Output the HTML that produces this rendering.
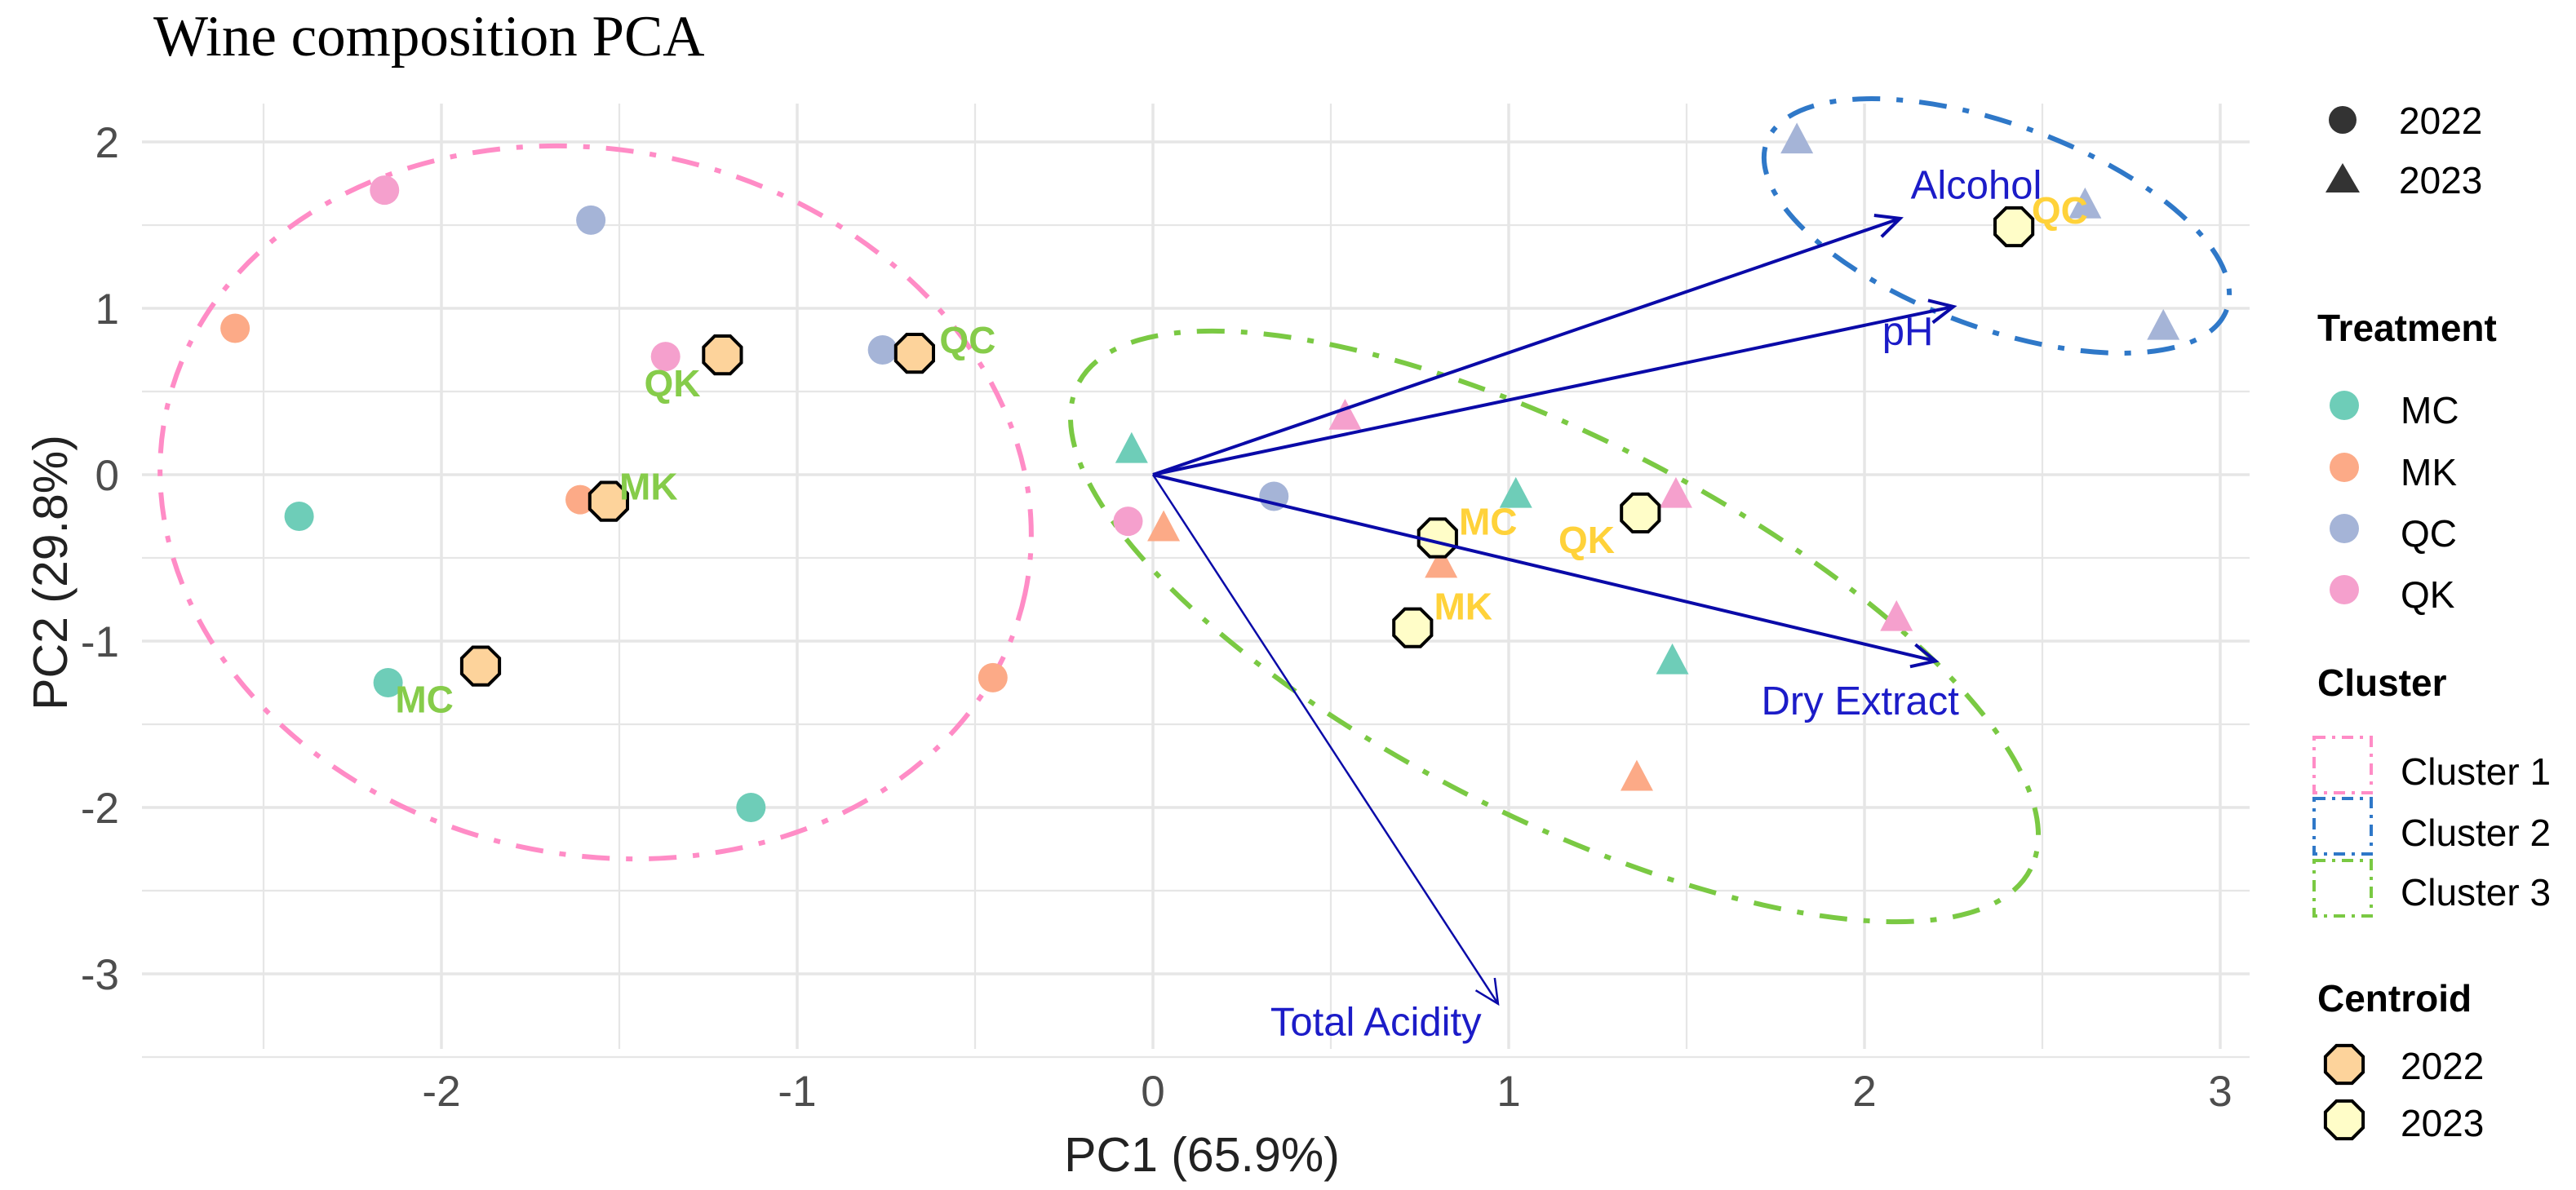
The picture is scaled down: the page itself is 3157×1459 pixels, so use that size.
<!DOCTYPE html>
<html><head><meta charset="utf-8"><style>
html,body{margin:0;padding:0;background:#fff;}
svg{display:block;}
</style></head><body>
<svg id="chart" xmlns="http://www.w3.org/2000/svg" width="3157" height="1459" viewBox="0 0 3157 1459">
<rect width="3157" height="1459" fill="#fff"/>
<text x="188" y="68" font-family="Liberation Serif, serif" font-size="71" fill="#000">Wine composition PCA</text>
<g id="grid"></g>
<g id="xticks"></g>
<g id="yticks"></g>
<text x="1473" y="1436" text-anchor="middle" font-family="Liberation Sans, sans-serif" font-size="59" fill="#222">PC1 (65.9%)</text>
<text transform="translate(82,702) rotate(-90)" text-anchor="middle" font-family="Liberation Sans, sans-serif" font-size="59" fill="#222">PC2 (29.8%)</text>
<g id="ellipses">
<ellipse cx="730" cy="616" rx="538" ry="432" transform="rotate(12 730 616)" fill="none" stroke="#FF8CC6" stroke-width="6" stroke-dasharray="34 20 8 20"/>
<ellipse cx="2447" cy="277" rx="300" ry="125" transform="rotate(20 2447 277)" fill="none" stroke="#2F78C8" stroke-width="6" stroke-dasharray="34 20 8 20"/>
<ellipse cx="1905" cy="768" rx="655" ry="232" transform="rotate(27 1905 768)" fill="none" stroke="#7AC943" stroke-width="6" stroke-dasharray="34 20 8 20"/>
</g>
<g id="points"></g>
<g id="centroids"></g>
<g id="arrows"></g>
<g id="labels"></g>
<g id="legend" font-family="Liberation Sans, sans-serif" fill="#000">
<circle cx="2871" cy="147" r="17" fill="#333"/>
<text x="2940" y="164" font-size="46">2022</text>
<polygon points="2871,200 2892,236 2850,236" fill="#333"/>
<text x="2940" y="237" font-size="46">2023</text>
<text x="2840" y="418" font-size="46" font-weight="bold">Treatment</text>
<circle cx="2873" cy="497" r="18" fill="#6ECDB8"/>
<text x="2942" y="519" font-size="46">MC</text>
<circle cx="2873" cy="573" r="18" fill="#FCAA87"/>
<text x="2942" y="595" font-size="46">MK</text>
<circle cx="2873" cy="648" r="18" fill="#A5B4D7"/>
<text x="2942" y="670" font-size="46">QC</text>
<circle cx="2873" cy="723" r="18" fill="#F5A0CD"/>
<text x="2942" y="745" font-size="46">QK</text>
<text x="2840" y="853" font-size="46" font-weight="bold">Cluster</text>
<rect x="2836" y="904" width="70" height="68" fill="none" stroke="#FF8CC6" stroke-width="4" stroke-dasharray="14 8 4 8"/>
<text x="2942" y="962" font-size="46">Cluster 1</text>
<rect x="2836" y="979" width="70" height="68" fill="none" stroke="#2F78C8" stroke-width="4" stroke-dasharray="14 8 4 8"/>
<text x="2942" y="1037" font-size="46">Cluster 2</text>
<rect x="2836" y="1055" width="70" height="68" fill="none" stroke="#7AC943" stroke-width="4" stroke-dasharray="14 8 4 8"/>
<text x="2942" y="1110" font-size="46">Cluster 3</text>
<text x="2840" y="1240" font-size="46" font-weight="bold">Centroid</text>
<g id="legoct"></g>
<text x="2942" y="1323" font-size="46">2022</text>
<text x="2942" y="1393" font-size="46">2023</text>
</g>
</svg>
<script>
// ---- data ----
const xTicks = [-2, -1, 0, 1, 2, 3];
const yTicks = [-3, -2, -1, 0, 1, 2];
const treatments = ["MC", "MK", "QC", "QK"];
const colors = {MC: "#6ECDB8", MK: "#FCAA87", QC: "#A5B4D7", QK: "#F5A0CD"};
// 2022 samples (circles)
const pts2022Trt = ["MC","MC","MC","MK","MK","MK","QC","QC","QC","QK","QK","QK"];
const pts2022X = [-2.40,-2.15,-1.13,-2.58,-1.61,-0.45,-1.58,-0.76,0.34,-2.16,-1.37,-0.07];
const pts2022Y = [-0.25,-1.25,-2.00,0.88,-0.15,-1.22,1.53,0.75,-0.13,1.71,0.71,-0.28];
// 2023 samples (triangles)
const pts2023Trt = ["MC","MC","MC","MK","MK","MK","QC","QC","QC","QK","QK","QK"];
const pts2023X = [-0.06,1.02,1.46,0.03,0.81,1.36,1.81,2.62,2.84,0.54,1.47,2.09];
const pts2023Y = [0.15,-0.12,-1.12,-0.32,-0.54,-1.82,2.01,1.62,0.89,0.35,-0.12,-0.86];
// centroids
const cen2022Lbl = ["QK","QC","MK","MC"];
const cen2022X = [-1.21,-0.67,-1.53,-1.89];
const cen2022Y = [0.72,0.73,-0.16,-1.15];
const cen2022LblX = [-1.43,-0.60,-1.50,-2.13];
const cen2022LblY = [0.47,0.73,-0.15,-1.43];
const cen2023Lbl = ["QC","MC","QK","MK"];
const cen2023X = [2.42,0.80,1.37,0.73];
const cen2023Y = [1.49,-0.38,-0.23,-0.92];
const cen2023LblX = [2.47,0.86,1.14,0.79];
const cen2023LblY = [1.51,-0.36,-0.47,-0.87];
// loadings
const loadNames = ["Alcohol","pH","Dry Extract","Total Acidity"];
const loadX = [2.10,2.25,2.20,0.97];
const loadY = [1.54,1.01,-1.12,-3.18];
const loadLblX = [2.13,2.05,1.71,0.33];
const loadLblY = [1.66,0.78,-1.44,-3.37];

// ---- scales ----
const sx = v => 1413 + 436 * v;
const sy = v => 582 - 204 * v;
const NS = "http://www.w3.org/2000/svg";
function mk(tag, parent, attrs){ const e=document.createElementNS(NS,tag); for(const k in attrs) e.setAttribute(k,attrs[k]); parent.appendChild(e); return e; }

const grid = document.getElementById('grid');
const L=174, R=2757, T=127, B=1286;
for (let v=-2.5; v<=3.01; v+=0.5){
  const el = mk('line', grid, {x1:sx(v),x2:sx(v),y1:T,y2:B,stroke:"#E6E6E6","stroke-width": Number.isInteger(v)?3.5:2.2});
  
  
}
for (let v=-3.5; v<=2.01; v+=0.5){
  const el = mk('line', grid, {x1:L,x2:R,y1:sy(v),y2:sy(v),stroke:"#E6E6E6","stroke-width": Number.isInteger(v)?3.5:2.2});
  
  
}
const xt = document.getElementById('xticks');
xTicks.forEach(v=>{
  const t = mk('text', xt, {x:sx(v), y:1356, "text-anchor":"middle","font-family":"Liberation Sans, sans-serif","font-size":53,fill:"#4D4D4D"});
  t.textContent = v;
  
  
});
const yt = document.getElementById('yticks');
yTicks.forEach(v=>{
  const t = mk('text', yt, {x:146, y:sy(v)+19, "text-anchor":"end","font-family":"Liberation Sans, sans-serif","font-size":53,fill:"#4D4D4D"});
  t.textContent = v;
  
  
});

const pg = document.getElementById('points');
pts2022X.forEach((x,i)=>{
  const c = mk('circle', pg, {cx:sx(x), cy:sy(pts2022Y[i]), r:18, fill:colors[pts2022Trt[i]]});
  
  
});
function tri(cx,cy,s){ const h=s*0.9; return `${cx},${cy-h*0.6} ${cx+s/2},${cy+h*0.45} ${cx-s/2},${cy+h*0.45}`; }
pts2023X.forEach((x,i)=>{
  const p = mk('polygon', pg, {points:tri(sx(x),sy(pts2023Y[i]),40), fill:colors[pts2023Trt[i]]});
  
  
});

function oct(cx,cy,r){ let s=[]; for(let k=0;k<8;k++){const a=Math.PI/8+k*Math.PI/4; s.push((cx+r*Math.cos(a)).toFixed(1)+','+(cy+r*Math.sin(a)).toFixed(1));} return s.join(' '); }
const cg = document.getElementById('centroids');
cen2022X.forEach((x,i)=>{
  const p = mk('polygon', cg, {points:oct(sx(x),sy(cen2022Y[i]),25), fill:"#FDD39B", stroke:"#000","stroke-width":4});
  
  
});
cen2023X.forEach((x,i)=>{
  const p = mk('polygon', cg, {points:oct(sx(x),sy(cen2023Y[i]),25), fill:"#FFFDC8", stroke:"#000","stroke-width":4});
  
  
});
const lo = document.getElementById('legoct');
let o1 = mk('polygon', lo, {points:oct(2873,1305,25), fill:"#FDD39B", stroke:"#000","stroke-width":4});


let o2 = mk('polygon', lo, {points:oct(2873,1373,25), fill:"#FFFDC8", stroke:"#000","stroke-width":4});



const ag = document.getElementById('arrows');
loadX.forEach((x,i)=>{
  const x0=sx(0), y0=sy(0), x1=sx(x), y1=sy(loadY[i]);
  const w = i===3?2.5:4;
  const ln = mk('line', ag, {x1:x0,y1:y0,x2:x1,y2:y1,stroke:"#0A0AA8","stroke-width":w});
  
  
  const ang = Math.atan2(y1-y0,x1-x0), hl=32, sp=0.45;
  const hd = mk('polyline', ag, {points:`${x1-hl*Math.cos(ang-sp)},${y1-hl*Math.sin(ang-sp)} ${x1},${y1} ${x1-hl*Math.cos(ang+sp)},${y1-hl*Math.sin(ang+sp)}`, fill:"none", stroke:"#0A0AA8","stroke-width":w});
  
  
});

const lg = document.getElementById('labels');
loadNames.forEach((n,i)=>{
  const t = mk('text', lg, {x:sx(loadLblX[i]), y:sy(loadLblY[i]), "font-family":"Liberation Sans, sans-serif","font-size":49,fill:"#1C1CC8"});
  t.textContent = n;
  
  
});
cen2022Lbl.forEach((n,i)=>{
  const t = mk('text', lg, {x:sx(cen2022LblX[i]), y:sy(cen2022LblY[i]), "font-family":"Liberation Sans, sans-serif","font-size":46,"font-weight":"bold",fill:"#86CC4A"});
  t.textContent = n;
  
  
});
cen2023Lbl.forEach((n,i)=>{
  const t = mk('text', lg, {x:sx(cen2023LblX[i]), y:sy(cen2023LblY[i]), "font-family":"Liberation Sans, sans-serif","font-size":46,"font-weight":"bold",fill:"#FFD23A"});
  t.textContent = n;
  
  
});
</script>
</body></html>
